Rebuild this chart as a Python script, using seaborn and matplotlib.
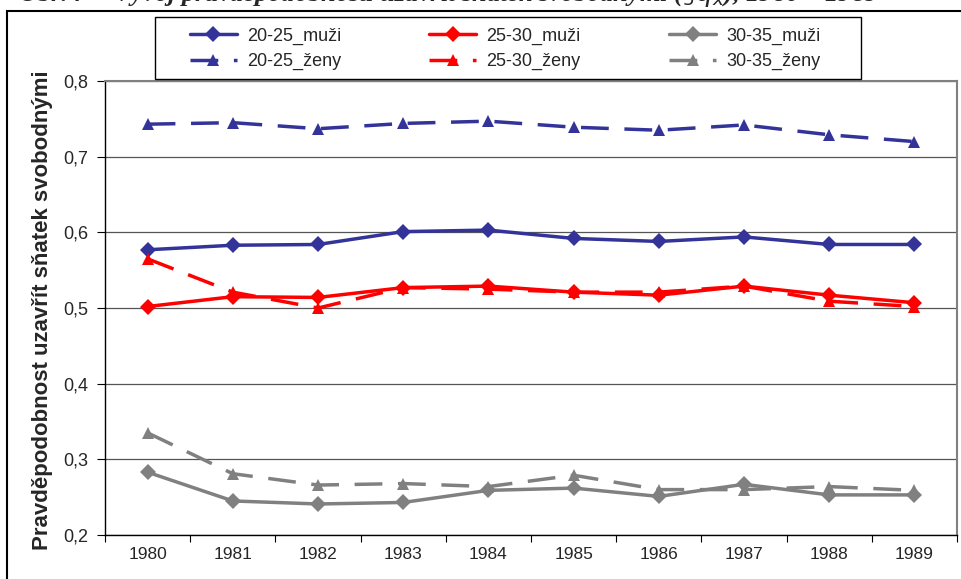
import pandas as pd
import seaborn as sns
import matplotlib.pyplot as plt
from matplotlib.patches import Rectangle
from matplotlib.ticker import FuncFormatter, MultipleLocator

# Data
roky = [1980, 1981, 1982, 1983, 1984, 1985, 1986, 1987, 1988, 1989]
m_20_25 = [0.577, 0.583, 0.584, 0.601, 0.603, 0.592, 0.588, 0.594, 0.584, 0.584]
z_20_25 = [0.743, 0.745, 0.737, 0.744, 0.747, 0.739, 0.735, 0.742, 0.729, 0.720]
m_25_30 = [0.502, 0.515, 0.514, 0.527, 0.529, 0.521, 0.517, 0.529, 0.517, 0.507]
z_25_30 = [0.565, 0.521, 0.500, 0.527, 0.525, 0.521, 0.521, 0.529, 0.509, 0.502]
m_30_35 = [0.283, 0.245, 0.241, 0.243, 0.259, 0.262, 0.251, 0.267, 0.253, 0.253]
z_30_35 = [0.335, 0.281, 0.266, 0.268, 0.264, 0.279, 0.260, 0.260, 0.264, 0.259]

serie = ['20-25_muži', '20-25_ženy', '25-30_muži', '25-30_ženy', '30-35_muži', '30-35_ženy']
hodnoty = [m_20_25, z_20_25, m_25_30, z_25_30, m_30_35, z_30_35]

df = pd.concat([pd.DataFrame({'rok': roky, 'p': v, 'serie': s}) for s, v in zip(serie, hodnoty)])

barvy = {'20-25_muži': '#333399', '20-25_ženy': '#333399',
         '25-30_muži': '#FF0000', '25-30_ženy': '#FF0000',
         '30-35_muži': '#808080', '30-35_ženy': '#808080'}
znacky = {s: ('D' if 'muži' in s else '^') for s in serie}
cary = {s: ('' if 'muži' in s else (8, 4.5)) for s in serie}

sns.set_style('white')
plt.rcParams['font.family'] = ['Liberation Sans', 'DejaVu Sans']

fig = plt.figure(figsize=(9.61, 5.79), dpi=100)
ax = fig.add_axes([0.1093, 0.076, 0.8865, 0.784])

sns.lineplot(data=df, x='rok', y='p', hue='serie', style='serie', hue_order=serie,
             style_order=serie, palette=barvy, markers=znacky, dashes=cary,
             linewidth=2.5, markersize=8, markeredgewidth=0, ax=ax, legend=False)

ax.set_xlim(1979.5, 1989.5)
ax.set_ylim(0.2, 0.8)
ax.set_xticks(roky)
ax.set_xticklabels([str(r) for r in roky], fontsize=12.5)
ax.xaxis.set_minor_locator(MultipleLocator(1, offset=0.5))
ax.tick_params(axis='x', which='major', length=0, pad=9)
ax.tick_params(axis='x', which='minor', length=5, width=0.8, color='black', direction='out', bottom=True)
ax.yaxis.set_major_locator(MultipleLocator(0.1))
ax.yaxis.set_major_formatter(FuncFormatter(lambda v, _: f'{v:.1f}'.replace('.', ',')))
ax.tick_params(axis='y', length=6, width=0.8, color='black', direction='out', left=True, labelsize=13, pad=6)
ax.grid(axis='y', color='#555555', linewidth=0.9)
ax.set_xlabel('')
ax.set_ylabel('Pravděpodobnost uzavřít sňatek svobodnými', fontsize=16, fontweight='bold')
ax.yaxis.set_label_coords(-0.061, 0.495)

for side in ['left', 'bottom']:
    ax.spines[side].set_color('black')
    ax.spines[side].set_linewidth(1.0)
for side in ['top', 'right']:
    ax.spines[side].set_color('#808080')
    ax.spines[side].set_linewidth(1.5)

# legend, 3 columns, muži on the first row, frame drawn separately
handles = [plt.Line2D([], [], color=barvy[s], marker=znacky[s], markersize=8, markeredgewidth=0,
                      linewidth=2.5, dashes=(cary[s] if cary[s] else (None, None)))
           for s in serie]
fig.legend(handles, serie, ncol=3, loc='center', bbox_to_anchor=(505 / 961, 1 - 49 / 579),
           fontsize=13, frameon=False, columnspacing=4.9, handlelength=2.6,
           handletextpad=0.55, labelspacing=0.45)
fig.patches.append(Rectangle((155 / 961, 1 - 79 / 579), 706 / 961, 62 / 579, transform=fig.transFigure,
                             fill=False, edgecolor='black', linewidth=1.0))

# outer chart frame and the clipped caption above it
fig.patches.append(Rectangle((7 / 961, -0.05), 1.1, 1 - 11 / 579 + 0.05, transform=fig.transFigure,
                             fill=False, edgecolor='black', linewidth=1.5))
fig.text(18 / 961, 1 + 5 / 579,
         'Obr. 7 – Vývoj pravděpodobnosti uzavřít sňatek svobodnými ($_5q_x$), 1980 – 1989',
         family=['Liberation Serif', 'DejaVu Serif'], fontweight='bold', fontstyle='italic',
         fontsize=19, va='center', ha='left')

fig.savefig('out.png', dpi=100)
